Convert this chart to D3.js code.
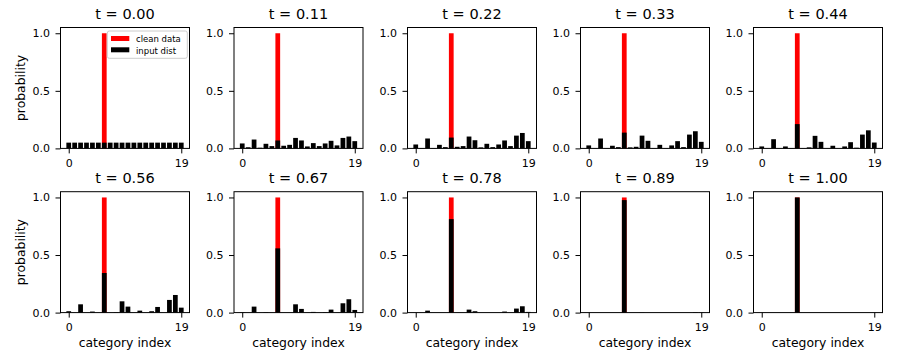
<!DOCTYPE html>
<html><head><meta charset="utf-8">
<script src="https://cdn.jsdelivr.net/npm/d3@7"></script>
<style>
body{margin:0;background:#fff;}
svg text{font-family:"DejaVu Sans",sans-serif;fill:#000;}
</style></head>
<body><div id="chart"></div>
<script>
const categories = d3.range(20);
const tValues = ["0.00","0.11","0.22","0.33","0.44","0.56","0.67","0.78","0.89","1.00"];
const cleanIndex = 6;
const cleanData = categories.map(i => i === cleanIndex ? 1 : 0);
const dist000 = [0.05,0.05,0.05,0.05,0.05,0.05,0.05,0.05,0.05,0.05,0.05,0.05,0.05,0.05,0.05,0.05,0.05,0.05,0.05,0.05];
const dist011 = [0.043,0.010,0.077,0.006,0.040,0.020,0.069,0.023,0.031,0.091,0.069,0.017,0.046,0.020,0.043,0.066,0.026,0.091,0.103,0.063];
const dist022 = [0.034,0.003,0.086,0.003,0.031,0.011,0.094,0.014,0.020,0.103,0.071,0.009,0.040,0.011,0.034,0.069,0.020,0.111,0.134,0.063];
const dist033 = [0.026,0.002,0.086,0.002,0.023,0.011,0.137,0.009,0.014,0.111,0.066,0.003,0.031,0.003,0.026,0.063,0.011,0.120,0.149,0.057];
const dist044 = [0.017,0,0.080,0,0.017,0.003,0.211,0.002,0.009,0.109,0.057,0,0.023,0,0.017,0.054,0.006,0.120,0.157,0.051];
const dist056 = [0.012,0,0.072,0,0.009,0,0.344,0,0.003,0.098,0.052,0,0.017,0,0.012,0.049,0,0.110,0.153,0.043];
const dist067 = [0.003,0,0.052,0,0.003,0,0.558,0,0,0.072,0.032,0,0.006,0,0.003,0.026,0,0.081,0.116,0.023];
const dist078 = [0,0,0.017,0,0,0,0.812,0,0,0.026,0.012,0,0,0,0,0.009,0,0.035,0.055,0.006];
const dist089 = [0,0,0,0,0,0,0.977,0,0,0.002,0,0,0,0,0,0,0,0,0.003,0.002];
const dist100 = [0,0,0,0,0,0,1,0,0,0,0,0,0,0,0,0,0,0,0,0];
const inputDists = [dist000,dist011,dist022,dist033,dist044,dist056,dist067,dist078,dist089,dist100];
const yTicks = [0, 0.5, 1.0];
const xTicks = [0, 19];
const legendLabels = ["clean data","input dist"];

const W = 897, H = 359;
const svg = d3.select("#chart").append("svg").attr("width", W).attr("height", H);

const lefts = [60.5, 234, 407.5, 580.5, 753.5];
const pw = 129;
const tops = [27.5, 191.7];
const ph = 120.9;

const x = d3.scaleLinear().domain([-1.39, 20.39]).range([0, pw]);
const y = d3.scaleLinear().domain([0, 1.05]).range([ph, 0]);
const bw = x(0.8) - x(0);

inputDists.forEach((dist, k) => {
  const r = Math.floor(k / 5), c = k % 5;
  const g = svg.append("g").attr("transform", `translate(${lefts[c]},${tops[r]})`);
  g.selectAll("rect.clean").data(categories).join("rect")
    .attr("class","clean")
    .attr("x", i => x(i - 0.4)).attr("width", bw)
    .attr("y", i => y(cleanData[i])).attr("height", i => y(0) - y(cleanData[i]))
    .attr("fill", "#ff0000");
  g.selectAll("rect.inp").data(categories).join("rect")
    .attr("class","inp")
    .attr("x", i => x(i - 0.4)).attr("width", bw)
    .attr("y", i => y(dist[i])).attr("height", i => y(0) - y(dist[i]))
    .attr("fill", "#000");
  const ya = g.append("g").call(d3.axisLeft(y).tickValues(yTicks).tickFormat(d3.format(".1f")).tickSize(5).tickPadding(5.5));
  const xa = g.append("g").attr("transform", `translate(0,${ph})`)
    .call(d3.axisBottom(x).tickValues(xTicks).tickFormat(d3.format("d")).tickSize(5).tickPadding(6));
  [ya, xa].forEach(a => {
    a.select(".domain").remove();
    a.selectAll("line").attr("stroke", "#000").attr("stroke-width", 1);
    a.selectAll("text").attr("font-size", "11px").attr("font-family", "DejaVu Sans");
  });
  g.append("rect").attr("x",0).attr("y",0).attr("width",pw).attr("height",ph)
    .attr("fill","none").attr("stroke","#000").attr("stroke-width",1);
  g.append("text").attr("x", pw/2).attr("y", -8.5).attr("text-anchor","middle")
    .attr("font-size","14.5px").text(`t = ${tValues[k]}`);
  if (c === 0) {
    g.append("text").attr("transform", `translate(-35.5,${ph/2}) rotate(-90)`)
      .attr("text-anchor","middle").attr("font-size","12.4px").text("probability");
  }
  if (r === 1) {
    g.append("text").attr("x", pw/2).attr("y", ph + 34).attr("text-anchor","middle")
      .attr("font-size","12.4px").text("category index");
  }
  if (k === 0) {
    const lg = g.append("g").attr("transform", `translate(46.8,3.5)`);
    lg.append("rect").attr("x",0).attr("y",0).attr("width",80).attr("height",27.3).attr("rx",2)
      .attr("fill","#fff").attr("fill-opacity",0.8).attr("stroke","#ccc").attr("stroke-width",1);
    const cols = ["#ff0000", "#000"];
    legendLabels.forEach((lab, j) => {
      lg.append("rect").attr("x",3.7).attr("y",5 + j*11.3).attr("width",18.3).attr("height",5).attr("fill",cols[j]);
      lg.append("text").attr("x",28.7).attr("y",10.7 + j*12.3).attr("font-size","8.5px").text(lab);
    });
  }
});
</script>
</body></html>
